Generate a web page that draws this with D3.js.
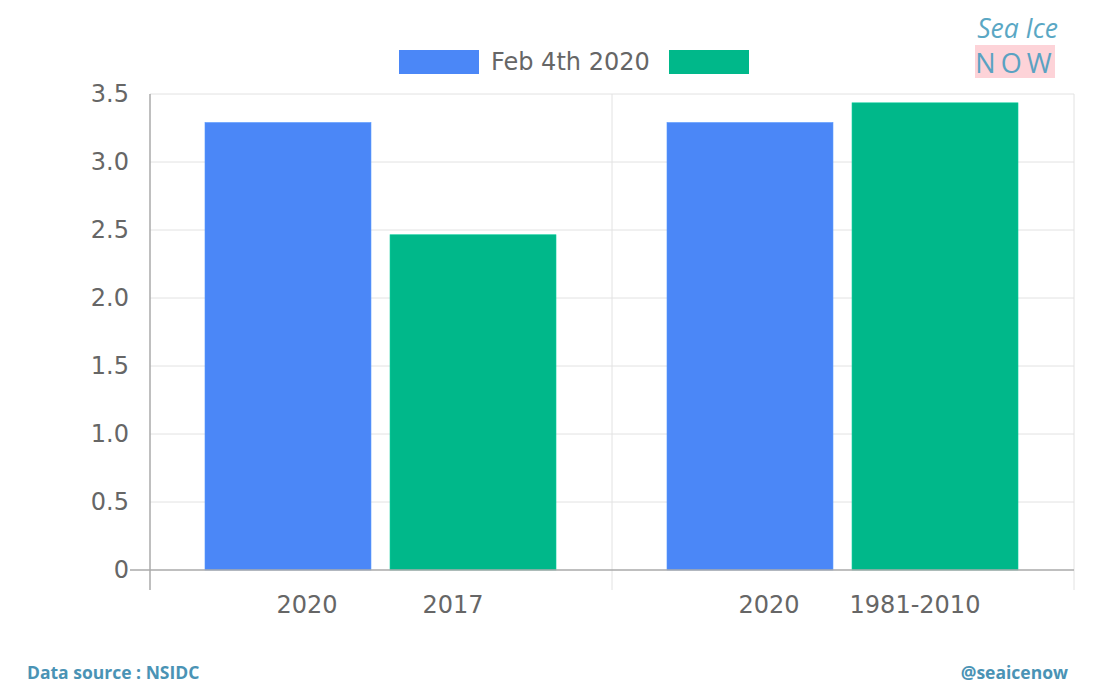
<!DOCTYPE html>
<html lang="en">
<head>
  <meta charset="UTF-8">
  <title>Sea Ice NOW - Feb 4th 2020</title>
  <script src="https://d3js.org/d3.v7.min.js"></script>
  <style>
    body { margin: 0; background: #fff; }
    svg { display: block; }
    .tick text { fill: #666; font-family: 'DejaVu Sans', sans-serif; font-size: 24px; }
  </style>
</head>
<body>
<svg id="chart" width="1100" height="700"></svg>
<script>
// data
const groups = ["A", "B"];
const categories = [["2020", "2017"], ["2020", "1981-2010"]];
const series1 = [3.29, 3.29];        // Feb 4th 2020 (blue)
const series2 = [2.465, 3.435];      // comparison year (green)
const yTicks = [0, 0.5, 1.0, 1.5, 2.0, 2.5, 3.0, 3.5];
const legendNames = ["Feb 4th 2020", ""];
const colors = ["#4b87f7", "#00b88a"];

const svg = d3.select("#chart");
const margin = {top: 94, right: 26, bottom: 130, left: 150};
const width = 1100 - margin.left - margin.right,
      height = 700 - margin.top - margin.bottom;

const g = svg.append("g").attr("transform", `translate(${margin.left},${margin.top})`);

const x0 = d3.scaleBand().domain(groups).range([0, width]);
const x1 = d3.scaleBand().domain([0, 1]).range([55, x0.bandwidth() - 56]).paddingInner(0.103);
const y = d3.scaleLinear().domain([0, 3.5]).range([height, 0]);

// horizontal gridlines
g.selectAll(".hgrid").data(yTicks.slice(1)).join("line")
  .attr("x1", 0).attr("x2", width)
  .attr("y1", d => y(d)).attr("y2", d => y(d))
  .attr("stroke", "#e2e2e2").attr("stroke-width", 1);

// vertical group separators
g.selectAll(".vgrid").data(groups).join("line")
  .attr("x1", d => x0(d) + x0.bandwidth()).attr("x2", d => x0(d) + x0.bandwidth())
  .attr("y1", 0).attr("y2", height + 20)
  .attr("stroke", "#e2e2e2").attr("stroke-width", 1);

// bars
const data = groups.map((gr, i) => ({gr, vals: [series1[i], series2[i]]}));
const grp = g.selectAll(".grp").data(data).join("g")
  .attr("transform", d => `translate(${x0(d.gr)},0)`);
grp.selectAll("rect").data(d => d.vals).join("rect")
  .attr("x", (d, i) => x1(i))
  .attr("width", x1.bandwidth())
  .attr("y", d => y(d))
  .attr("height", d => height - y(d))
  .attr("fill", (d, i) => colors[i])
  .attr("stroke", (d, i) => d3.color(colors[i]).brighter(0.3))
  .attr("stroke-width", 0.6);

// category labels
grp.selectAll(".cat").data((d, i) => categories[i]).join("text")
  .attr("class", "cat")
  .attr("x", (d, i) => x0.bandwidth() / 2 + (i === 0 ? -74 : 72))
  .attr("y", height + 43)
  .attr("text-anchor", "middle")
  .attr("fill", "#666")
  .style("font-family", "'DejaVu Sans', sans-serif")
  .style("font-size", "24px")
  .text(d => d);

// y axis
const yAxis = g.append("g")
  .call(d3.axisLeft(y).tickValues(yTicks).tickFormat(d => d === 0 ? "0" : d3.format(".1f")(d)).tickSize(0).tickPadding(21));
yAxis.select(".domain").remove();
g.append("line").attr("x1", 0).attr("x2", 0).attr("y1", 0).attr("y2", height + 20)
  .attr("stroke", "#aaa").attr("stroke-width", 1.5);
// zero line
g.append("line").attr("x1", -20).attr("x2", width).attr("y1", y(0)).attr("y2", y(0))
  .attr("stroke", "#aaa").attr("stroke-width", 1.5);

// legend
const legend = svg.append("g").attr("transform", "translate(399,50)");
const legX = [0, 270];
legendNames.forEach((name, i) => {
  legend.append("rect").attr("x", legX[i]).attr("y", 0).attr("width", 80).attr("height", 24).attr("fill", colors[i]);
  legend.append("text").attr("x", legX[i] + 92).attr("y", 20)
    .attr("fill", "#666").style("font-family", "'DejaVu Sans', sans-serif").style("font-size", "24px").text(name);
});

// logo
svg.append("text").attr("x", 1058).attr("y", 38).attr("text-anchor", "end")
  .attr("fill", "#5aa7c4").style("font-family", "'Open Sans', sans-serif").style("font-style", "italic")
  .style("font-size", "26.5px").text("Sea Ice");
svg.append("rect").attr("x", 975).attr("y", 45).attr("width", 80).attr("height", 33).attr("fill", "#fdd3d8");
svg.append("text").attr("x", 1016).attr("y", 73).attr("text-anchor", "middle")
  .attr("fill", "#5aa2c2").style("font-family", "'Open Sans', sans-serif")
  .style("font-size", "27px").style("letter-spacing", "5px").text("NOW");

// footer
svg.append("text").attr("x", 27).attr("y", 679)
  .attr("fill", "#4a93b5").style("font-family", "'Open Sans', sans-serif").style("font-weight", "bold")
  .style("font-size", "17.5px").text("Data source : NSIDC");
svg.append("text").attr("x", 1068).attr("y", 679).attr("text-anchor", "end")
  .attr("fill", "#4a93b5").style("font-family", "'Open Sans', sans-serif").style("font-weight", "bold")
  .style("font-size", "17.5px").text("@seaicenow");
</script>
</body>
</html>
